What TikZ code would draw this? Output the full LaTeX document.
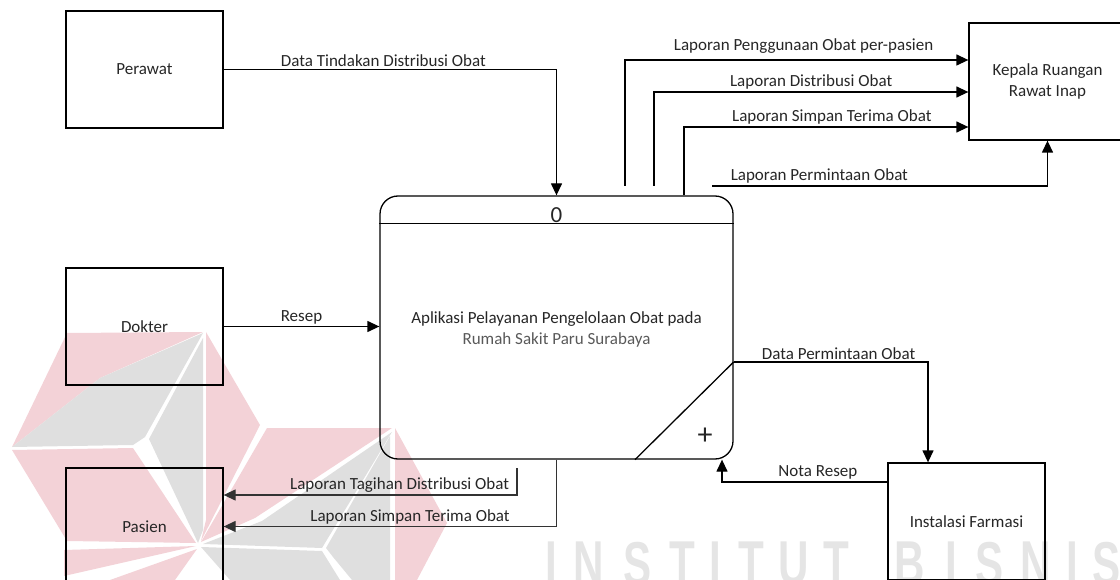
\documentclass[tikz,border=0pt]{standalone}
\usepackage{fontspec}
\setmainfont{Carlito}
\newfontfamily\wmfont{Liberation Sans}
\usetikzlibrary{arrows.meta}

\definecolor{wmred}{RGB}{243,210,215}
\definecolor{wmgray}{RGB}{223,223,223}
\definecolor{wmtext}{RGB}{229,229,229}

\begin{document}
\begin{tikzpicture}[x=1pt,y=-1pt,
  every node/.style={font=\fontsize{17}{21}\selectfont,text=black!85},
  ent/.style={draw,line width=1.3pt,minimum width=157pt,minimum height=117pt,inner sep=0pt,align=center},
  proc/.style={draw,line width=1.3pt,rounded corners=18pt,minimum width=353pt,minimum height=263pt,inner sep=0pt},
  flow/.style={line width=1.3pt,-{Triangle[length=12pt,width=11pt]}},
  lbl/.style={above,inner sep=2pt},
  wmletter/.style={anchor=north,inner sep=0pt,xscale=0.68,font=\wmfont\bfseries\fontsize{62}{62}\selectfont,text=wmtext}]
\useasboundingbox (0,0) rectangle (1120,580);
% watermark
\fill[wmred] (12,447) -- (67,333) -- (203,332) -- (100,378) -- cycle;
\fill[wmgray] (12,447) -- (100,378) -- (203,333) -- (145,437) -- (133,445) -- cycle;
\fill[wmgray] (149,439) -- (203,338) -- (203,530) -- (198,543) -- cycle;
\fill[wmred] (206,332) -- (260,425) -- (201,541) -- (206,520) -- cycle;
\fill[wmred] (12,450) -- (133,448) -- (196,543) -- (67,541) -- cycle;
\fill[wmred] (64,550) -- (196,546) -- (64,576) -- cycle;
\fill[wmred] (110,580) -- (197,549) -- (175,580) -- cycle;
\fill[wmred] (267,428) -- (392,428) -- (255,518) -- (201,542) -- cycle;
\fill[wmgray] (392,432) -- (262,521) -- (203,544) -- (322,548) -- cycle;
\fill[wmred] (395,428) -- (447,523) -- (417,580) -- (395,580) -- cycle;
\fill[wmgray] (390,436) -- (390,580) -- (352,580) -- (333,557) -- (326,548) -- cycle;
\fill[wmgray] (201,547) -- (322,551) -- (340,580) -- (230,580) -- cycle;
\foreach \c/\x in {I/551,N/589,S/638,T/682,I/715,T/751,U/794,T/836,B/910,I/951,S/990,N/1036,I/1072,S/1107}
  \node[wmletter] (wm-\x) at (\x,542) {\c};
% external entities
\node[ent] (perawat) at (144.5,69.5) {Perawat};
\node[ent] (dokter) at (144.5,326.5) {Dokter};
\node[ent] (pasien) at (144.5,526.5) {Pasien};
\node[ent] (kepala) at (1047.5,81.5) {Kepala Ruangan\\Rawat Inap};
\node[ent] (farmasi) at (966.5,521.5) {Instalasi Farmasi};
% process
\node[proc] (proc) at (556.5,327.5) {};
\draw[line width=1.3pt] ([yshift=-28pt]proc.north west) -- ([yshift=-28pt]proc.north east);
\node[anchor=base,font=\fontsize{23}{23}\selectfont] (pnum) at (556.5,223) {0};
\node[align=center] (ptext) at (556.5,329) {Aplikasi Pelayanan Pengelolaan Obat pada\\\textcolor{black!65}{Rumah Sakit Paru Surabaya}};
\coordinate (pe) at ([yshift=-34.5pt]proc.east);
\coordinate (ps) at ([xshift=78.5pt]proc.south);
\draw[line width=1.3pt] (ps) -- (pe);
\node[font=\fontsize{30}{30}\selectfont] (plus) at (705,436) {+};
% data flows
\draw[flow] (perawat.east) -| node[lbl,pos=0.24] {Data Tindakan Distribusi Obat} (proc.north);
\draw[flow] (dokter.east) -- node[lbl] {Resep} (dokter.east -| proc.west);
\coordinate (k1) at (625,186);
\coordinate (k2) at (654,186);
\coordinate (k3) at ([xshift=127.5pt]proc.north);
\coordinate (k4) at (712,186);
\draw[flow] (k1) |- node[lbl,pos=0.76,yshift=4pt] {Laporan Penggunaan Obat per-pasien} ([yshift=21.5pt]kepala.west);
\draw[flow] (k2) |- node[lbl,pos=0.75] {Laporan Distribusi Obat} ([yshift=-10.5pt]kepala.west);
\draw[flow] (k3) |- node[lbl,pos=0.76] {Laporan Simpan Terima Obat} ([yshift=-45.5pt]kepala.west);
\draw[flow] (k4) -| node[lbl,pos=0.16] {Laporan Permintaan Obat} (kepala.south);
\draw[flow] (pe) -| node[lbl,pos=0.27] {Data Permintaan Obat} ([xshift=-38.5pt]farmasi.north);
\draw[flow] ([yshift=39.5pt]farmasi.west) -| node[lbl,pos=0.21] {Nota Resep} ([xshift=165.5pt]proc.south);
\coordinate (t1) at (517,468);
\draw[flow,draw=black!80] (t1) |- node[lbl,pos=0.70] {Laporan Tagihan Distribusi Obat} ([yshift=31.5pt]pasien.east);
\draw[flow,draw=black!80] (proc.south) |- node[lbl,pos=0.72] {Laporan Simpan Terima Obat} (pasien.east);
\end{tikzpicture}
\end{document}
